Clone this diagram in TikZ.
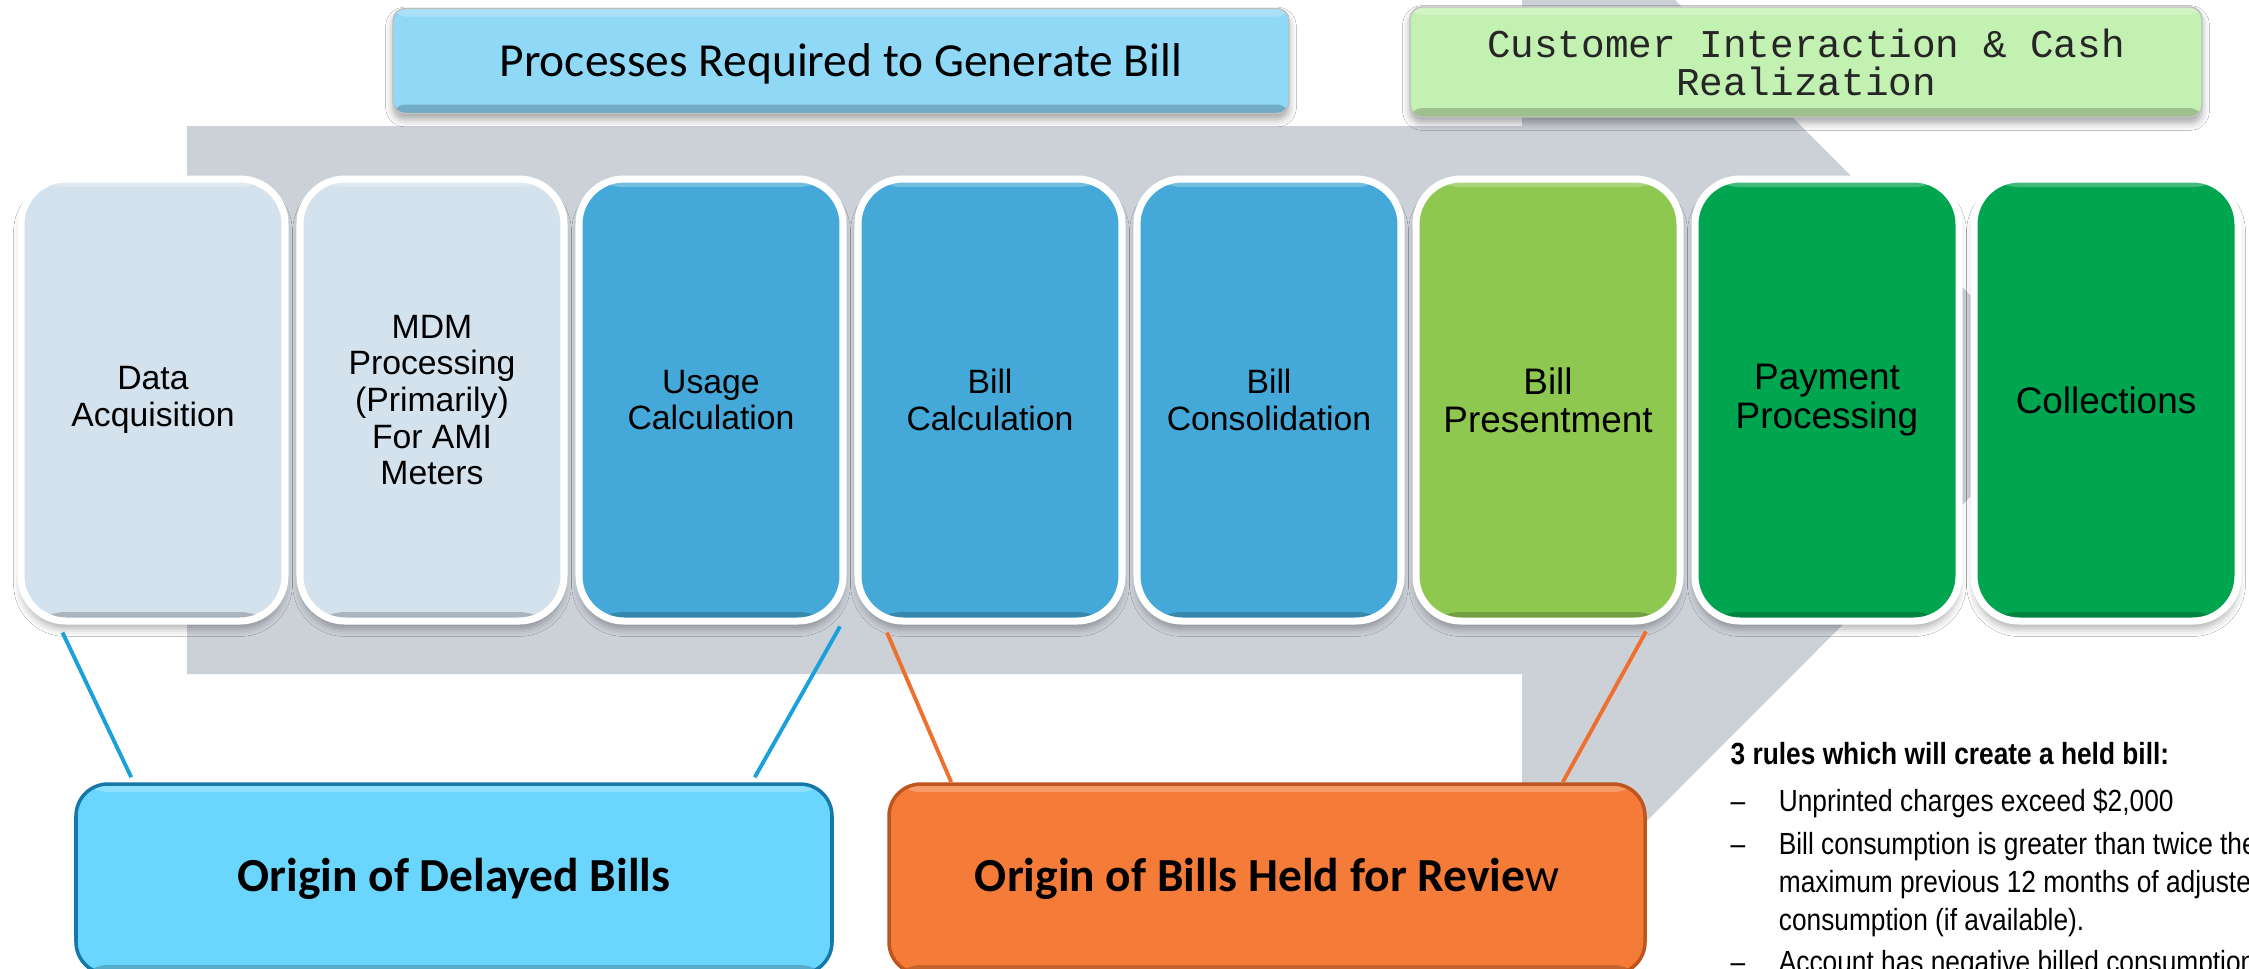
\documentclass[tikz,border=0pt]{standalone}
\usepackage{fontspec}
\setmainfont{Liberation Sans}
\newfontfamily\calibri{Carlito}
\newfontfamily\courier{Liberation Mono}
\newfontfamily\narrow[FakeStretch=0.86]{Liberation Sans}
\usetikzlibrary{positioning,shadows.blur}

\definecolor{arrowgray}{RGB}{204,209,216}
\definecolor{palebox}{RGB}{212,226,238}
\definecolor{procblue}{RGB}{68,169,216}
\definecolor{proclime}{RGB}{143,200,81}
\definecolor{procgreen}{RGB}{0,165,80}
\definecolor{headblue}{RGB}{143,216,246}
\definecolor{headgreen}{RGB}{195,241,178}
\definecolor{delayblue}{RGB}{107,214,253}
\definecolor{delayedge}{RGB}{22,120,168}
\definecolor{heldorange}{RGB}{244,123,56}
\definecolor{heldedge}{RGB}{190,85,30}
\definecolor{delayline}{RGB}{26,160,218}
\definecolor{heldline}{RGB}{238,112,46}

\tikzset{
  bevel/.style={path picture={
      \fill[white,opacity=.25] (path picture bounding box.north west) rectangle ([yshift=-0.8mm]path picture bounding box.north east);
      \fill[black,opacity=.2] (path picture bounding box.south west) rectangle ([yshift=0.9mm]path picture bounding box.south east);}},
  proc/.style={draw=white, line width=2pt, rounded corners=4.5mm, bevel,
    minimum width=26.4mm, minimum height=44.2mm, align=center, inner sep=0pt,
    font=\fontsize{9.6}{10.4}\selectfont,
    blur shadow={shadow xshift=0mm, shadow yshift=-0.8mm, shadow opacity=30}},
  procbig/.style={proc, font=\fontsize{10.5}{10.9}\selectfont},
  header/.style={draw=black!25, line width=0.4pt, rounded corners=1.2mm, bevel, align=center,
    blur shadow={shadow xshift=0mm, shadow yshift=-0.6mm, shadow opacity=35}},
  origin/.style={line width=1pt, rounded corners=3.2mm, bevel, minimum width=75.6mm,
    minimum height=19mm, font=\calibri\fontsize{13.5}{14}\selectfont},
  bracket/.style={line width=1.1pt},
  rules/.style={anchor=north west, inner sep=0pt, align=left,
    font=\narrow\fontsize{8.7}{10.8}\selectfont},
}
\newcommand{\ruledash}{\makebox[13.7pt][l]{–}}
\newcommand{\ruleskip}{\hspace*{13.7pt}}

\begin{document}
\begin{tikzpicture}[x=0.1mm, y=-0.1mm]
  \useasboundingbox (0,0) rectangle (2249,968);
  \clip (0,0) rectangle (2249,968);
  \fill[white] (0,0) rectangle (2249,968);

  % flow arrow behind the boxes
  \fill[arrowgray] (187,126) -- (1522,126) -- (1522,-153) -- (2071,396)
    -- (1522,946) -- (1522,674) -- (187,674) -- cycle;

  % headers
  \node[header, fill=headblue, minimum width=89.6mm, minimum height=10.5mm,
    text height=8.7pt, text depth=0pt,
    font=\calibri\fontsize{13.5}{14}\selectfont] (genhead) at (841,61)
    {Processes Required to Generate Bill};
  \node[header, fill=headgreen, minimum width=79.2mm, minimum height=11mm,
    font=\courier\fontsize{11.2}{10.8}\selectfont, text=black!85] (cashhead) at (1806,62)
    {Customer Interaction \& Cash\\Realization};

  % process steps
  \node[proc, fill=palebox]    (acq)     at (153,400)  {Data\\Acquisition};
  \node[proc, fill=palebox]    (mdm)     at (432,400)  {MDM\\Processing\\(Primarily)\\For AMI\\Meters};
  \node[proc, fill=procblue]   (usage)   at (711,400)  {Usage\\Calculation};
  \node[proc, fill=procblue]   (billcalc) at (990,400) {Bill\\Calculation};
  \node[proc, fill=procblue]   (consol)  at (1269,400) {Bill\\Consolidation};
  \node[procbig, fill=proclime] (present) at (1548,400) {Bill\\Presentment};
  \node[procbig, fill=procgreen] (payment) at (1827,400) {Payment\\Processing};
  \node[procbig, fill=procgreen] (collect) at (2106,400) {Collections};

  % origins
  \node[origin, fill=delayblue, draw=delayedge] (delayed) at (454,879)
    {\textbf{Origin of Delayed Bills}};
  \node[origin, fill=heldorange, draw=heldedge] (held) at (1267,879)
    {\textbf{Origin of Bills Held for Revie}w};

  \draw[bracket, delayline]
    ([xshift=4.5mm,yshift=-0.8mm]acq.south west) -- ([xshift=5.7mm,yshift=0.5mm]delayed.north west)
    ([xshift=-0.65mm,yshift=-0.2mm]usage.south east) -- ([xshift=-7.9mm,yshift=0.5mm]delayed.north east);
  \draw[bracket, heldline]
    ([xshift=3.25mm,yshift=-0.8mm]billcalc.south west) -- ([xshift=6.4mm]held.north west)
    ([xshift=-3.75mm,yshift=-0.7mm]present.south east) -- ([xshift=-8.4mm]held.north east);

  % hold rules
  \node[rules] (heldrules) at (1730,742)
    {\textbf{3 rules which will create a held bill:}\\[2.6pt]
     \ruledash Unprinted charges exceed \$2,000\\[1.4pt]
     \ruledash Bill consumption is greater than twice the\\
     \ruleskip maximum previous 12 months of adjusted\\
     \ruleskip consumption (if available).\\[1.2pt]
     \ruledash Account has negative billed consumption};
\end{tikzpicture}
\end{document}
